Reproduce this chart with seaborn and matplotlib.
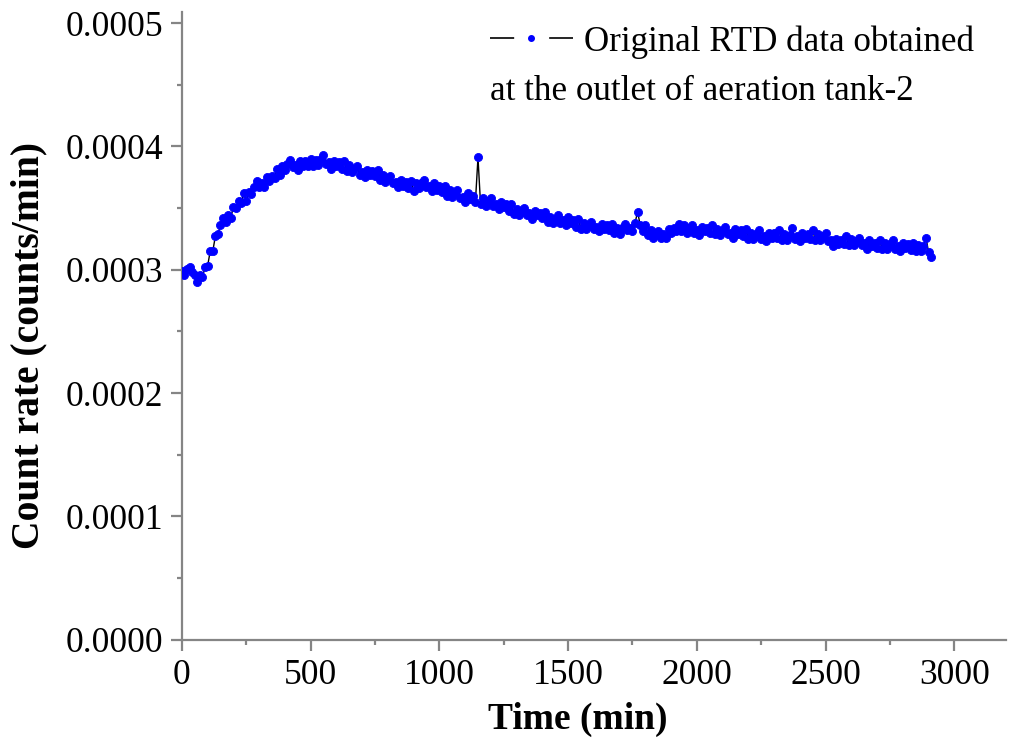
import numpy as np
import pandas as pd
import matplotlib
matplotlib.use("Agg")
import matplotlib.pyplot as plt
from matplotlib.lines import Line2D
from matplotlib.ticker import MultipleLocator, FormatStrFormatter
import seaborn as sns

# Sampling times (min), one reading every 10 min
time_min = np.arange(0, 2911, 10)

# Count rate in units of 1e-6 counts/min
count_rate_e6 = [
    299, 296, 301, 302, 298, 296, 290, 296, 294, 302,
    303, 315, 315, 327, 329, 336, 342, 339, 344, 342,
    351, 350, 356, 354, 362, 356, 363, 361, 367, 372,
    367, 370, 367, 375, 372, 376, 374, 382, 377, 384,
    381, 386, 389, 383, 385, 381, 388, 384, 388, 384,
    390, 384, 389, 385, 390, 393, 386, 387, 382, 388,
    384, 387, 382, 388, 380, 385, 379, 382, 384, 377,
    379, 375, 381, 377, 380, 376, 381, 373, 377, 371,
    374, 376, 370, 371, 367, 373, 368, 371, 366, 372,
    364, 370, 366, 370, 373, 367, 368, 364, 370, 365,
    368, 363, 368, 360, 365, 359, 362, 365, 358, 359,
    355, 362, 357, 360, 355, 391, 353, 358, 352, 356,
    358, 352, 353, 349, 355, 351, 353, 348, 353, 345,
    349, 344, 348, 350, 344, 346, 341, 348, 344, 346,
    342, 347, 339, 343, 338, 341, 344, 338, 340, 336,
    343, 338, 340, 335, 341, 333, 338, 333, 336, 339,
    333, 335, 331, 337, 333, 336, 332, 337, 330, 334,
    329, 334, 337, 332, 334, 331, 338, 347, 336, 331,
    336, 328, 332, 326, 329, 331, 326, 329, 326, 333,
    330, 334, 331, 337, 331, 336, 330, 334, 336, 330,
    332, 328, 335, 331, 334, 330, 336, 329, 333, 328,
    332, 335, 329, 330, 326, 333, 329, 332, 327, 333,
    325, 330, 325, 329, 332, 325, 327, 323, 330, 326,
    330, 326, 332, 324, 329, 324, 328, 334, 325, 327,
    323, 330, 326, 329, 325, 332, 324, 329, 324, 327,
    330, 323, 324, 319, 325, 321, 324, 321, 327, 320,
    325, 320, 323, 326, 320, 322, 317, 324, 319, 322,
    318, 324, 317, 322, 317, 321, 324, 317, 319, 315,
    322, 318, 321, 316, 322, 315, 320, 315, 319, 326,
    314, 310,
]

legend_line1 = "Original RTD data obtained"
legend_line2 = "at the outlet of aeration tank-2"
x_label = "Time (min)"
y_label = "Count rate (counts/min)"

df = pd.DataFrame({"time": time_min,
                   "rate": np.array(count_rate_e6) * 1e-6})

sns.set_theme(style="ticks")
plt.rcParams["font.family"] = ["Liberation Serif", "DejaVu Serif"]
plt.rcParams["text.color"] = "black"
plt.rcParams["axes.labelcolor"] = "black"
plt.rcParams["xtick.labelcolor"] = "black"
plt.rcParams["ytick.labelcolor"] = "black"

axis_gray = "#858585"

fig = plt.figure(figsize=(10.16, 7.44), dpi=100)
ax = fig.add_axes([0.179, 0.140, 0.811, 0.844])

sns.lineplot(data=df, x="time", y="rate", ax=ax, color="black", lw=1.0,
             marker="o", markersize=5.8, markerfacecolor="blue",
             markeredgecolor="blue", markeredgewidth=0.6, zorder=3)

ax.set_xlim(0, 3200)
ax.set_ylim(0, 0.000509)
ax.xaxis.set_major_locator(MultipleLocator(500))
ax.xaxis.set_minor_locator(MultipleLocator(250))
ax.yaxis.set_major_locator(MultipleLocator(0.0001))
ax.yaxis.set_minor_locator(MultipleLocator(0.00005))
ax.yaxis.set_major_formatter(FormatStrFormatter("%.4f"))
ax.set_xticks([0, 500, 1000, 1500, 2000, 2500, 3000])

for side in ("top", "right"):
    ax.spines[side].set_visible(False)
for side in ("left", "bottom"):
    ax.spines[side].set_color(axis_gray)
    ax.spines[side].set_linewidth(1.6)

ax.tick_params(which="major", direction="out", length=8, width=1.6,
               color=axis_gray, labelsize=25.5, pad=5.5, labelcolor="black")
ax.tick_params(which="minor", direction="out", length=3.8, width=1.6,
               color=axis_gray)

ax.set_xlabel(x_label, fontsize=27, fontweight="bold", color="black")
ax.set_ylabel(y_label, fontsize=28.5, fontweight="bold", color="black")
ax.xaxis.set_label_coords(0.48, -0.098)
ax.yaxis.set_label_coords(-0.163, 0.468)

handle = Line2D([], [], color="black", lw=1.2,
                linestyle=(0, (14.5, 21.0, 15.5, 60)),
                marker="o", markersize=4, markerfacecolor="blue",
                markeredgecolor="blue")
leg = ax.legend(handles=[handle], labels=[legend_line1], loc="upper left",
                bbox_to_anchor=(0.374, 0.979), frameon=False, fontsize=25.2,
                handlelength=2.36, handletextpad=0.32, borderpad=0,
                borderaxespad=0, numpoints=1)
for t in leg.get_texts():
    t.set_color("black")
ax.text(0.374, 0.860, legend_line2, transform=ax.transAxes,
        fontsize=25.2, ha="left", va="baseline", color="black")

fig.savefig("out.png", dpi=100)
